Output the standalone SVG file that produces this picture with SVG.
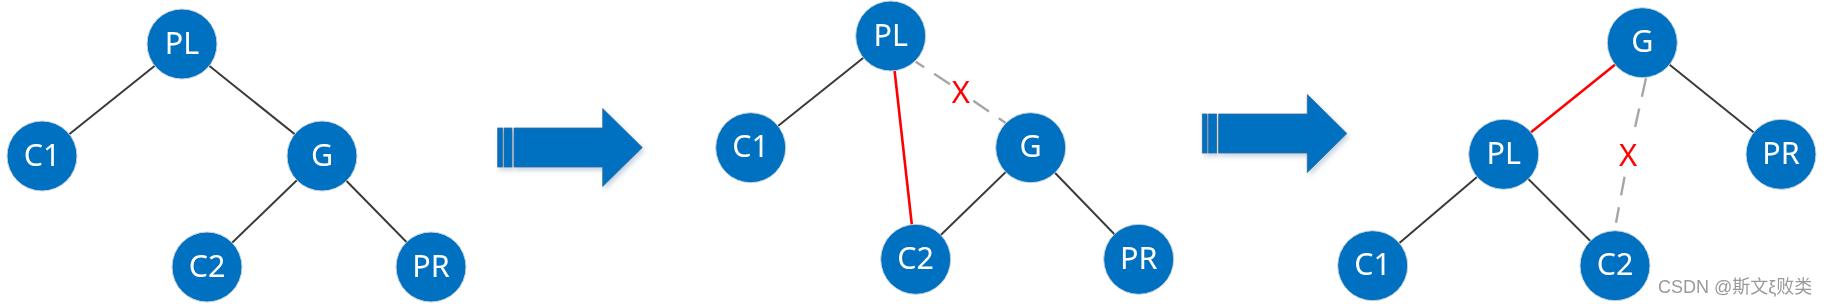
<svg xmlns="http://www.w3.org/2000/svg" xmlns:xlink="http://www.w3.org/1999/xlink" width="1828" height="304" viewBox="0 0 1828 304">
<style>
.node circle{fill:#0070C0;stroke:#c8d3de;stroke-width:1}
.node text{fill:#ffffff;font-family:"Noto Sans","Open Sans",sans-serif;font-size:30.5px;text-anchor:middle}
.edge{stroke:#3a3a3a;stroke-width:2;fill:none}
.red{stroke:#ff0000;stroke-width:2.6;fill:none}
.dash{stroke:#a6a6a6;stroke-width:2.4;stroke-dasharray:19 12;fill:none}
.cross{fill:#ff0000;font-family:"Noto Sans","Open Sans",sans-serif;font-size:31px;text-anchor:middle}
.arrowpart{fill:#0070C0;stroke:#3a6a9a;stroke-width:0.8}
.wm{fill:#9a9a9a;font-family:"Liberation Sans","Noto Sans CJK SC",sans-serif;font-size:18px}
</style>
<defs>
<filter id="shadow" x="-10%" y="-20%" width="130%" height="150%">
<feDropShadow dx="2" dy="3" stdDeviation="2.5" flood-color="#5b7fa8" flood-opacity="0.35"/>
</filter>
<g id="bigArrow">
<rect class="arrowpart" x="0" y="-19.5" width="4.8" height="39"/>
<rect class="arrowpart" x="6.3" y="-19.5" width="8" height="39"/>
<path class="arrowpart" d="M16.3,-19.5 H105 V-39 L144.6,0 L105,39 V19.5 H16.3 Z"/>
</g>
</defs>

<g id="connectors">
<!-- panel 1 -->
<line class="edge" x1="182" y1="44" x2="42" y2="156"/>
<line class="edge" x1="182" y1="44" x2="322" y2="156"/>
<line class="edge" x1="322" y1="156" x2="207" y2="267"/>
<line class="edge" x1="322" y1="156" x2="431" y2="267"/>
<!-- panel 2 -->
<line class="edge" x1="890.7" y1="36" x2="750.7" y2="147.7"/>
<line class="red" x1="890.7" y1="36" x2="915.7" y2="259.3"/>
<line class="dash" x1="950" y1="84.3" x2="915.7" y2="61.7"/>
<line class="dash" x1="973.3" y1="100.7" x2="1006" y2="123.3"/>
<line class="edge" x1="1030.7" y1="147.7" x2="915.7" y2="259.3"/>
<line class="edge" x1="1030.7" y1="147.7" x2="1138.7" y2="259.3"/>
<!-- panel 3 -->
<line class="red" x1="1642.3" y1="42.7" x2="1503.7" y2="154.3"/>
<line class="edge" x1="1642.3" y1="42.7" x2="1781" y2="154.3"/>
<line class="dash" x1="1646" y1="78.3" x2="1632.9" y2="137"/>
<line class="dash" x1="1624.6" y1="176.7" x2="1616" y2="222.7"/>
<line class="edge" x1="1503.7" y1="154.3" x2="1372.7" y2="265.7"/>
<line class="edge" x1="1503.7" y1="154.3" x2="1615" y2="265.7"/>
</g>

<g id="arrows" filter="url(#shadow)">
<use xlink:href="#bigArrow" transform="translate(497.7,147.5)"/>
<use xlink:href="#bigArrow" transform="translate(1202.3,133.5)"/>
</g>

<g id="p1-PL" class="node"><circle cx="182" cy="44" r="35"/><text x="182" y="53.5">PL</text></g>
<g id="p1-C1" class="node"><circle cx="42" cy="156" r="35"/><text x="42" y="165.5">C1</text></g>
<g id="p1-G" class="node"><circle cx="322" cy="156" r="35"/><text x="322" y="165.5">G</text></g>
<g id="p1-C2" class="node"><circle cx="207" cy="267" r="35"/><text x="207" y="276.5">C2</text></g>
<g id="p1-PR" class="node"><circle cx="431" cy="267" r="35"/><text x="431" y="276.5">PR</text></g>

<g id="p2-PL" class="node"><circle cx="890.7" cy="36" r="35"/><text x="890.7" y="45.5">PL</text></g>
<g id="p2-C1" class="node"><circle cx="750.7" cy="147.7" r="35"/><text x="750.7" y="157.2">C1</text></g>
<g id="p2-G" class="node"><circle cx="1030.7" cy="147.7" r="35"/><text x="1030.7" y="157.2">G</text></g>
<g id="p2-C2" class="node"><circle cx="915.7" cy="259.3" r="35"/><text x="915.7" y="268.8">C2</text></g>
<g id="p2-PR" class="node"><circle cx="1138.7" cy="259.3" r="35"/><text x="1138.7" y="268.8">PR</text></g>
<text id="p2-X" class="cross" x="960.8" y="103.3">X</text>

<g id="p3-G" class="node"><circle cx="1642.3" cy="42.7" r="35"/><text x="1642.3" y="52.2">G</text></g>
<g id="p3-PL" class="node"><circle cx="1503.7" cy="154.3" r="35"/><text x="1503.7" y="163.8">PL</text></g>
<g id="p3-PR" class="node"><circle cx="1781" cy="154.3" r="35"/><text x="1781" y="163.8">PR</text></g>
<g id="p3-C1" class="node"><circle cx="1372.7" cy="265.7" r="35"/><text x="1372.7" y="275.2">C1</text></g>
<g id="p3-C2" class="node"><circle cx="1615" cy="265.7" r="35"/><text x="1615" y="275.2">C2</text></g>
<text id="p3-X" class="cross" x="1628" y="165.7">X</text>

<text class="wm" x="1658" y="293">CSDN @斯文ξ败类</text>
</svg>
